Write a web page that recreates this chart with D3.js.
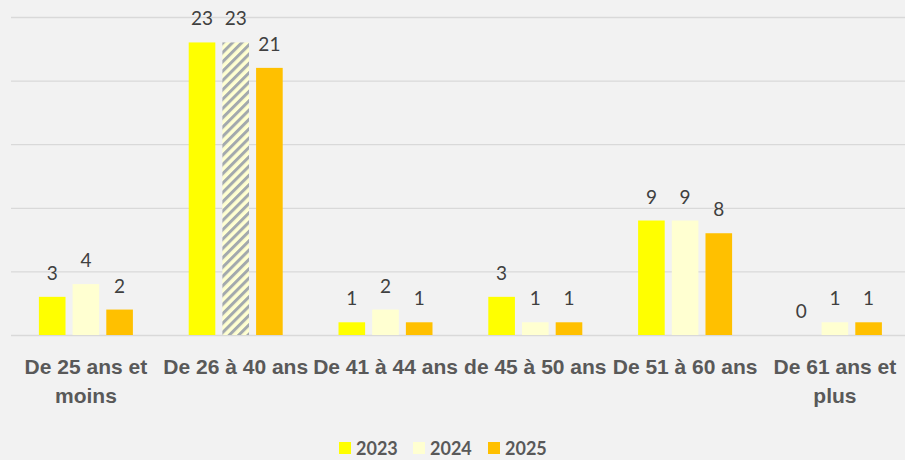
<!DOCTYPE html>
<html><head><meta charset="utf-8">
<script src="https://cdn.jsdelivr.net/npm/d3@7/dist/d3.min.js"></script>
<style>
html,body{margin:0;padding:0;background:#f2f2f2;}
svg{display:block;font-family:Lato, "Open Sans", sans-serif;}
</style></head>
<body><svg id="c" width="905" height="460"></svg>
<script>
const categories = [["De 25 ans et","moins"],["De 26 à 40 ans"],["De 41 à 44 ans"],["de 45 à 50 ans"],["De 51 à 60 ans"],["De 61 ans et","plus"]];
const seriesNames = ["2023","2024","2025"];
const values2023 = [3,23,1,3,9,0];
const values2024 = [4,23,2,1,9,1];
const values2025 = [2,21,1,1,8,1];
const yTicks = [0,5,10,15,20,25];
const hatched = [[1,1]]; // [category index, series index] drawn with a hatch
const colors = ["#ffff00","#ffffd1","#ffc000"];

const series = [values2023, values2024, values2025];
const svg = d3.select("#c");
const defs = svg.append("defs");
const pat = defs.append("pattern").attr("id","hatch").attr("patternUnits","userSpaceOnUse")
  .attr("width",6.6).attr("height",6.6).attr("patternTransform","rotate(45)");
pat.append("rect").attr("width",6.6).attr("height",6.6).attr("fill","#ffffd1");
pat.append("rect").attr("x",0).attr("width",3).attr("height",6.6).attr("fill","#a3a9ad");

const x = d3.scaleBand().domain(d3.range(categories.length)).range([11, 11+6*149.8]).paddingInner(0).paddingOuter(0);
const y = d3.scaleLinear().domain([0,25]).range([335,17]);
const xs = d3.scaleBand().domain(d3.range(3)).range([-47, 47]).paddingInner(0.21).paddingOuter(0);

// gridlines
const yAxis = d3.axisLeft(y).tickValues(yTicks).tickSize(-905).tickFormat("");
const gy = svg.append("g").attr("transform","translate(11,0)").call(yAxis);
gy.select(".domain").remove();
gy.selectAll(".tick line").attr("stroke","#d9d9d9").attr("stroke-width",1.3);

// bars
const groups = svg.append("g").selectAll("g").data(categories).join("g")
  .attr("transform",(d,i)=>`translate(${x(i)+x.bandwidth()/2},0)`);
series.forEach((vals,s)=>{
  groups.append("rect")
    .attr("x",xs(s)).attr("width",xs.bandwidth())
    .attr("y",(d,i)=>y(vals[i])).attr("height",(d,i)=>y(0)-y(vals[i]))
    .attr("fill",(d,i)=> hatched.some(h=>h[0]===i&&h[1]===s) ? "url(#hatch)" : colors[s]);
  groups.append("text")
    .attr("x",xs(s)+xs.bandwidth()/2).attr("y",(d,i)=>y(vals[i])-17)
    .attr("text-anchor","middle").attr("font-size",19).attr("fill","#404040")
    .text((d,i)=>vals[i]);
});

// x axis labels
const xAxis = d3.axisBottom(x).tickSize(0).tickFormat("");
const gx = svg.append("g").attr("transform","translate(0,335)").call(xAxis);
gx.select(".domain").remove();
gx.selectAll(".tick").each(function(d){
  const t = d3.select(this).append("text").attr("text-anchor","middle")
    .attr("font-size",21).attr("font-weight","bold").attr("fill","#595959");
  categories[d].forEach((line,k)=>{
    t.append("tspan").attr("x",0).attr("y",39+k*28.5).text(line);
  });
});

// legend
const legendX = [339,413,488];
const lg = svg.append("g");
seriesNames.forEach((n,i)=>{
  lg.append("rect").attr("x",legendX[i]).attr("y",442).attr("width",12).attr("height",12).attr("fill",colors[i]);
  lg.append("text").attr("x",legendX[i]+17).attr("y",455).attr("font-size",18).attr("font-weight","bold").attr("fill","#595959").text(n);
});
</script></body></html>
